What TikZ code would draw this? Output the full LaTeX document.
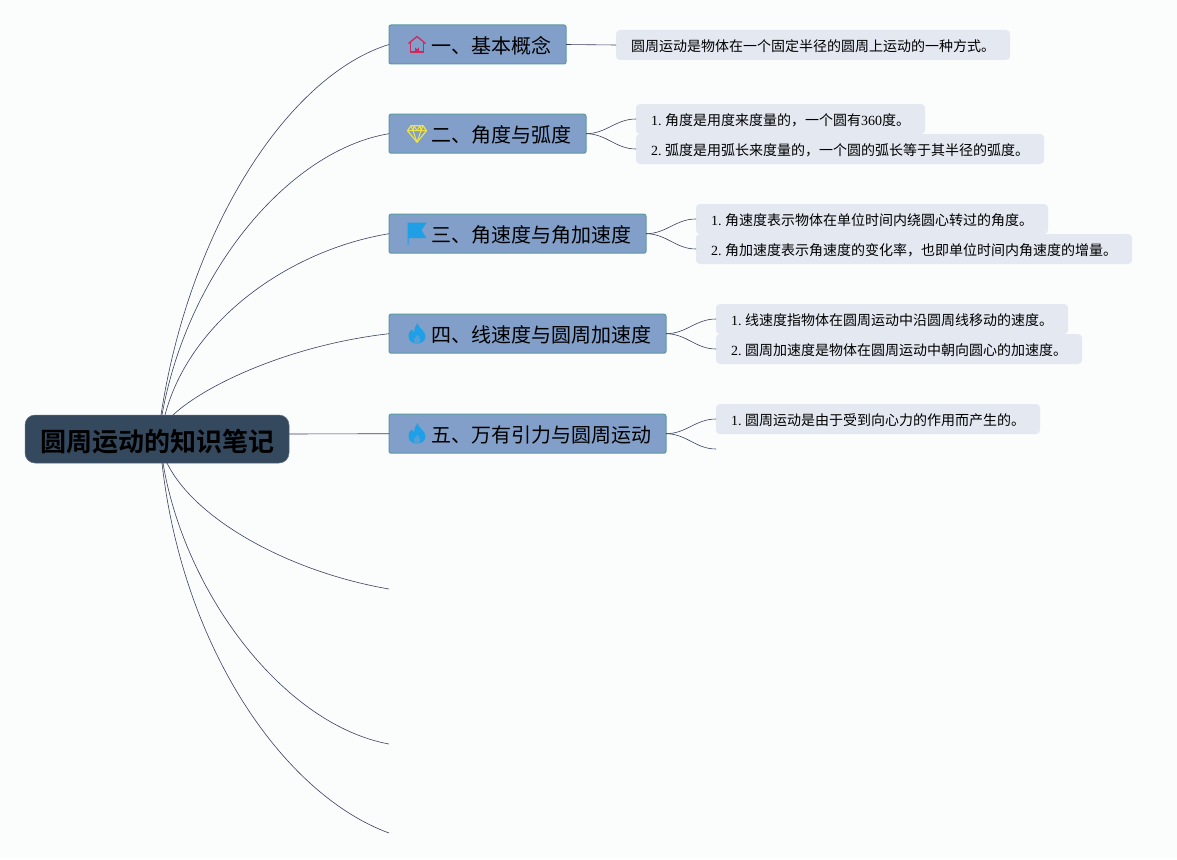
\documentclass[tikz,border=0pt]{standalone}
\usepackage{fontspec}
\setmainfont[WordSpace=0.7]{Liberation Serif}
\newfontfamily\cjk{Noto Sans CJK SC}
\newfontfamily\cjkbold{Noto Sans CJK SC Bold}
\usetikzlibrary{calc}

\definecolor{pagecol}{HTML}{FBFCFC}
\definecolor{rootcol}{HTML}{34495E}
\definecolor{branchcol}{HTML}{819FC8}
\definecolor{edgecol}{HTML}{5B9A9F}
\definecolor{leafcol}{HTML}{E3E8F1}
\definecolor{linecol}{HTML}{3A4060}
\definecolor{homecol}{HTML}{D0285C}
\definecolor{gemcol}{HTML}{EDE24A}
\definecolor{bluecol}{HTML}{1E9FE6}

\tikzset{
    rootnode/.style={fill=rootcol,draw=rootcol!80!white,line width=0.5pt,outer sep=0pt,rounded corners=10pt,minimum height=48pt,inner xsep=15pt,inner ysep=0pt,text height=27pt,text depth=3pt,font=\cjkbold\fontsize{26}{30}\selectfont},
    branch/.style={fill=branchcol,draw=edgecol,line width=1pt,outer sep=0pt,rounded corners=2pt,anchor=west,minimum height=39pt,inner xsep=14.5pt,inner ysep=0pt,text height=20pt,text depth=3pt,font=\cjk\fontsize{20}{24}\selectfont,execute at begin node={\hspace*{28pt}}},
    leaf/.style={fill=leafcol,rounded corners=4pt,outer sep=0pt,anchor=west,minimum height=30pt,inner xsep=15pt,inner ysep=0pt,text height=14.5pt,text depth=2pt,font=\fontsize{14}{17}\selectfont},
    link/.style={draw=linecol,line width=0.6pt},
    pics/homeicon/.style={code={
        \draw[homecol,line width=1.3pt,line join=round] (-8.5,-1) -- (0,-8) -- (8.5,-1);
        \draw[homecol,line width=1.3pt,line join=round] (-6.7,-2.5) -- (-6.7,7.5) -- (6.7,7.5) -- (6.7,-2.5);
        \fill[homecol] (-1.8,7.5) -- (-1.8,3) arc[start angle=180,end angle=0,radius=1.8] -- (1.8,7.5) -- cycle;
    }},
    pics/gemicon/.style={code={
        \draw[gemcol,line width=1.2pt,line join=round] (-6,-8) -- (6,-8) -- (9.5,-3) -- (0,8.5) -- (-9.5,-3) -- cycle;
        \draw[gemcol,line width=1pt,line join=round] (-9.5,-3) -- (9.5,-3) (-3,-8) -- (-4,-3) -- (0,8.5) -- (4,-3) -- (3,-8) (-6,-8) -- (-4,-3) (6,-8) -- (4,-3) (-3,-8) -- (0,-3) -- (3,-8);
    }},
    pics/flagicon/.style={code={
        \fill[bluecol] (-9.5,-11) -- (9.5,-11) -- (4.5,-3.5) -- (9.5,4.5) -- (-8.5,4.5) -- (-8.5,11) -- (-9.5,11) -- cycle;
    }},
    pics/flameicon/.style={code={
        \fill[bluecol] (0.5,-10.5) .. controls (1.5,-5) and (8.5,-3) .. (8.5,2.5) .. controls (8.5,7) and (4.5,10) .. (0,10) .. controls (-4.5,10) and (-8.5,7) .. (-8.5,2.5) .. controls (-8.5,-1) and (-6.5,-3) .. (-5,-4.5) .. controls (-4.5,-3) and (-4,-2) .. (-3,-1.5) .. controls (-3,-5) and (-1.5,-8) .. (0.5,-10.5) -- cycle;
        \fill[branchcol!55!bluecol] (0.5,1) .. controls (1,3) and (3.5,4) .. (3.5,6.5) .. controls (3.5,8.5) and (1.5,10) .. (0,10) .. controls (-1.5,10) and (-3.5,8.5) .. (-3.5,6.5) .. controls (-3.5,4.5) and (-0.5,3.5) .. (0.5,1) -- cycle;
    }}
}

\begin{document}
\begin{tikzpicture}[x=1pt,y=-1pt]
    \fill[pagecol] (0,0) rectangle (1177,859);
    \useasboundingbox (0,0) rectangle (1177,859);

    \node[rootnode] (root) at (157,439) {圆周运动的知识笔记};

    \node[branch] (b1) at (389,44.5) {一、基本概念};
    \node[branch] (b2) at (389,133.7) {二、角度与弧度};
    \node[branch] (b3) at (389,233.7) {三、角速度与角加速度};
    \node[branch] (b4) at (389,333.7) {四、线速度与圆周加速度};
    \node[branch] (b5) at (389,433.7) {五、万有引力与圆周运动};

    \pic at ($(b1.west)+(28,0)$) {homeicon};
    \pic at ($(b2.west)+(28,0)$) {gemicon};
    \pic at ($(b3.west)+(28,0)$) {flagicon};
    \pic at ($(b4.west)+(28,0)$) {flameicon};
    \pic at ($(b5.west)+(28,0)$) {flameicon};

    \node[leaf] (l11) at (616,45) {\cjk 圆周运动是物体在一个固定半径的圆周上运动的一种方式。};
    \node[leaf] (l21) at (636,119) {1. {\cjk 角度是用度来度量的，一个圆有{\rmfamily 360}度。}};
    \node[leaf] (l22) at (636,149) {2. {\cjk 弧度是用弧长来度量的，一个圆的弧长等于其半径的弧度。}};
    \node[leaf] (l31) at (696,219) {1. {\cjk 角速度表示物体在单位时间内绕圆心转过的角度。}};
    \node[leaf] (l32) at (696,249) {2. {\cjk 角加速度表示角速度的变化率，也即单位时间内角速度的增量。}};
    \node[leaf] (l41) at (716,319) {1. {\cjk 线速度指物体在圆周运动中沿圆周线移动的速度。}};
    \node[leaf] (l42) at (716,349) {2. {\cjk 圆周加速度是物体在圆周运动中朝向圆心的加速度。}};
    \node[leaf] (l51) at (716,419) {1. {\cjk 圆周运动是由于受到向心力的作用而产生的。}};

    \coordinate (re) at ($(root.east)+(0,-5)$);
    \coordinate (l52) at (716,449);
    \coordinate (e6) at (389,589);
    \coordinate (e7) at (389,744);
    \coordinate (e8) at (389,833);

    \draw[link] ($(root.north)+(4,0)$) .. controls (190,225) and (290,75) .. (b1.west);
    \draw[link] ($(root.north)+(5,0)$) .. controls (188,270) and (290,150) .. (b2.west);
    \draw[link] ($(root.north)+(8,0)$) .. controls (190,320) and (290,250) .. (b3.west);
    \draw[link] ($(root.north)+(16,0)$) .. controls (205,385) and (290,345) .. (b4.west);
    \draw[link] (re) -- (b5.west);
    \draw[link] ($(root.south)+(10,0)$) .. controls (195,520) and (290,572) .. (e6);
    \draw[link] ($(root.south)+(6,0)$) .. controls (185,595) and (285,725) .. (e7);
    \draw[link] ($(root.south)+(5,0)$) .. controls (183,650) and (285,795) .. (e8);

    \draw[link] (b1.east) -- (l11.west);
    \draw[link] (b2.east) to[out=0,in=180] (l21.west);
    \draw[link] (b2.east) to[out=0,in=180] (l22.west);
    \draw[link] (b3.east) to[out=0,in=180] (l31.west);
    \draw[link] (b3.east) to[out=0,in=180] (l32.west);
    \draw[link] (b4.east) to[out=0,in=180] (l41.west);
    \draw[link] (b4.east) to[out=0,in=180] (l42.west);
    \draw[link] (b5.east) to[out=0,in=180] (l51.west);
    \draw[link] (b5.east) to[out=0,in=180] (l52);
\end{tikzpicture}
\end{document}
